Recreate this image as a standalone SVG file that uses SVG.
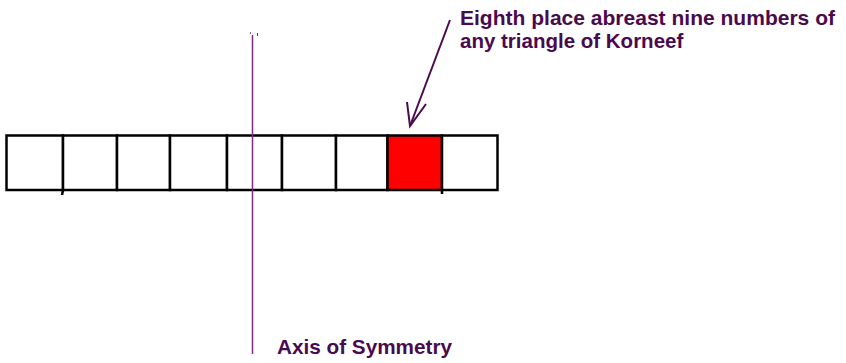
<svg xmlns="http://www.w3.org/2000/svg" width="846" height="363" viewBox="0 0 846 363">
<style>
.cell{fill:#fff;stroke:#000;stroke-width:2.5}
.lbl{font-family:"Liberation Sans",Arial,sans-serif;font-weight:bold;font-size:20.5px;fill:#4a0a4e}
.conn{stroke:#4a0a4e;stroke-width:2;fill:none}
.tick{stroke:#000;stroke-width:2.5}
</style>
<rect width="846" height="363" fill="#fff"/>
<g id="row">
<rect class="cell" x="6.5" y="135.5" width="56.5" height="54.5"/>
<rect class="cell" x="63" y="135.5" width="54" height="54.5"/>
<rect class="cell" x="117" y="135.5" width="53" height="54.5"/>
<rect class="cell" x="170" y="135.5" width="57" height="54.5"/>
<rect class="cell" x="227" y="135.5" width="55" height="54.5"/>
<rect class="cell" x="282" y="135.5" width="54" height="54.5"/>
<rect class="cell" x="336" y="135.5" width="51.5" height="54.5"/>
<rect id="eighth" class="cell" x="387.5" y="135.5" width="54.5" height="54.5" style="fill:#ff0000"/>
<rect class="cell" x="442" y="135.5" width="55.5" height="54.5"/>
<line class="tick" x1="63" y1="190" x2="62" y2="195"/>
<line class="tick" x1="442" y1="190" x2="442" y2="194"/>
</g>
<g id="axis">
<line x1="252.5" y1="35" x2="252.5" y2="354" stroke="#7a2d80" stroke-width="1.5"/>
<line x1="250" y1="33" x2="251" y2="33" stroke="#7a2d80" stroke-width="1.5"/>
<line x1="257.5" y1="33" x2="257.5" y2="36" stroke="#7a2d80" stroke-width="1"/>
<text class="lbl" x="277" y="354" textLength="175" lengthAdjust="spacingAndGlyphs">Axis of Symmetry</text>
</g>
<g id="note">
<text class="lbl" x="460" y="25" textLength="375" lengthAdjust="spacingAndGlyphs">Eighth place abreast nine numbers of</text>
<text class="lbl" x="460" y="48">any triangle of Korneef</text>
</g>
<g id="connectors">
<line class="conn" x1="450" y1="20" x2="410" y2="126"/>
<polyline class="conn" points="407,102 410,126 426,104"/>
</g>
</svg>
